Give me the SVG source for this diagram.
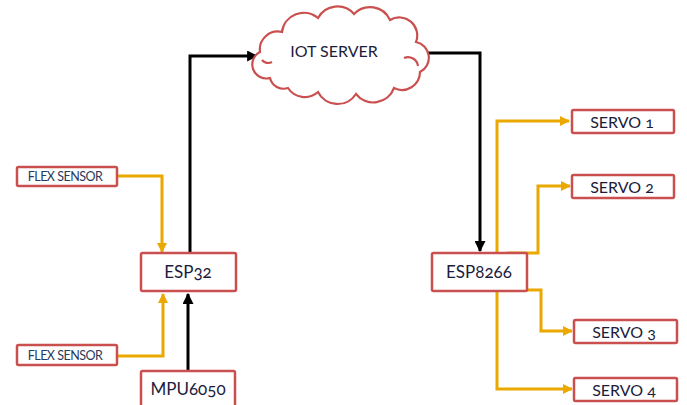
<svg xmlns="http://www.w3.org/2000/svg" width="687" height="405" viewBox="0 0 687 405">
<defs>
<marker id="ya" viewBox="0 0 10 10" refX="9" refY="5" markerWidth="10" markerHeight="10" markerUnits="userSpaceOnUse" orient="auto"><path d="M0,0 L10,5 L0,10 Z" fill="#eaa800"/></marker>
<marker id="ba" viewBox="0 0 10 10" refX="9" refY="5" markerWidth="11" markerHeight="11" markerUnits="userSpaceOnUse" orient="auto"><path d="M0,0 L10,5 L0,10 Z" fill="#000"/></marker>
<style>
.box{fill:#fff;stroke:#c9504f;stroke-width:2.5}
.t{font-family:Lato,"Open Sans","Liberation Sans",sans-serif;font-variant-numeric:oldstyle-nums;font-feature-settings:"onum";fill:#1c1c3c;text-anchor:middle;dominant-baseline:central}
.big{font-size:17px}
.mid{font-size:16px}
.sm{font-size:12.5px;fill:#2a3a5a;letter-spacing:-0.5px}
.y{fill:none;stroke:#eaa800;stroke-width:3}
.k{fill:none;stroke:#000;stroke-width:3}
.cloud{fill:#fff;stroke:#c9504f;stroke-width:2.2}
</style>
</defs>
<g id="connectors">
<path class="y" d="M117,176 H162 V252" marker-end="url(#ya)"/>
<path class="y" d="M117,356 H163 V294" marker-end="url(#ya)"/>
<path class="k" d="M188,371 V294" marker-end="url(#ba)"/>
<path class="k" d="M190,253 V56 H257" marker-end="url(#ba)"/>
<path class="k" d="M425,53 H480 V251" marker-end="url(#ba)"/>
<path class="y" d="M497,253 V121 H569" marker-end="url(#ya)"/>
<path class="y" d="M507,253 H538 V186 H570" marker-end="url(#ya)"/>
<path class="y" d="M513,290 H541 V331 H572" marker-end="url(#ya)"/>
<path class="y" d="M497,292 V389 H572" marker-end="url(#ya)"/>
</g>
<g id="iot-server">
<path class="cloud" d="M270,78 A14,14 0 0 1 260,52 A18,18 0 0 1 282,32 A22,22 0 0 1 318,18 A22,22 0 0 1 354,14 A22,22 0 0 1 390,20 A18,18 0 0 1 416,42 A16,16 0 0 1 420,72 A18,18 0 0 1 394,88 A22,22 0 0 1 356,94 A22,22 0 0 1 318,92 A20,20 0 0 1 288,88 A14,14 0 0 1 270,78 Z"/>
<path class="cloud" fill="none" d="M262,60 A8,8 0 0 0 272,62 M404,58 A10,10 0 0 1 418,66"/>
<text class="t mid" x="334" y="50">IOT SERVER</text>
</g>
<g id="flex1">
<rect class="box" x="17" y="167" width="100" height="19" rx="1.5"/>
<text class="t sm" x="65" y="176.5">FLEX SENSOR</text>
</g>
<g id="flex2">
<rect class="box" x="17" y="345" width="100" height="20" rx="1.5"/>
<text class="t sm" x="65" y="355">FLEX SENSOR</text>
</g>
<g id="esp32">
<rect class="box" x="141" y="253" width="95" height="38" rx="1.5"/>
<text class="t big" x="188" y="271">ESP32</text>
</g>
<g id="mpu6050">
<rect class="box" x="141" y="371" width="94" height="40" rx="1.5"/>
<text class="t big" x="188" y="388">MPU6050</text>
</g>
<g id="esp8266">
<rect class="box" x="432" y="253" width="95" height="38" rx="1.5"/>
<text class="t big" x="479" y="271">ESP8266</text>
</g>
<g id="servo1">
<rect class="box" x="572" y="110" width="102" height="23" rx="1.5"/>
<text class="t mid" x="622" y="121">SERVO 1</text>
</g>
<g id="servo2">
<rect class="box" x="572" y="175" width="102" height="23" rx="1.5"/>
<text class="t mid" x="622" y="186">SERVO 2</text>
</g>
<g id="servo3">
<rect class="box" x="574" y="320" width="103" height="23" rx="1.5"/>
<text class="t mid" x="624" y="331">SERVO 3</text>
</g>
<g id="servo4">
<rect class="box" x="574" y="378" width="103" height="23" rx="1.5"/>
<text class="t mid" x="624" y="389">SERVO 4</text>
</g>
</svg>
